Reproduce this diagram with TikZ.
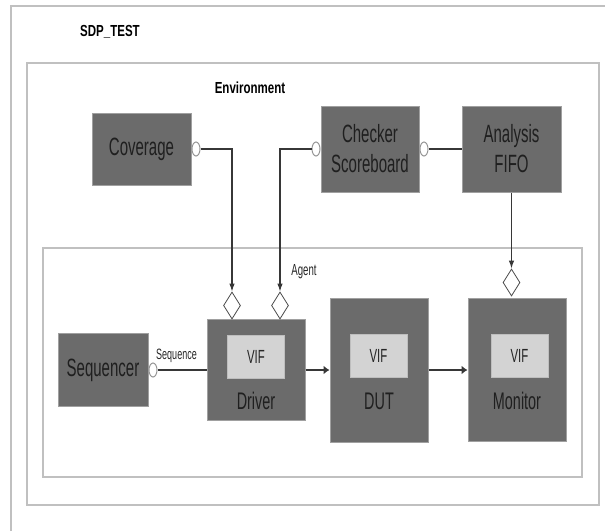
\documentclass[tikz,border=0pt]{standalone}
\usepackage{fontspec}
\setmainfont{Liberation Sans}[FakeStretch=0.6]
\newfontfamily\headfont{Liberation Sans}[FakeStretch=0.72]
\usetikzlibrary{arrows.meta,positioning,shapes.geometric}
\definecolor{blockgray}{RGB}{107,107,107}
\definecolor{blockedge}{RGB}{160,160,160}
\definecolor{viffill}{RGB}{211,211,211}
\definecolor{vifedge}{RGB}{190,190,190}
\definecolor{framegray}{RGB}{192,192,192}
\definecolor{wiregray}{RGB}{55,55,55}
\definecolor{portedge}{RGB}{150,150,150}
\tikzset{
  boundary/.style={draw=framegray,line width=1.5pt},
  wire/.style={draw=wiregray,line width=1.2pt},
  flowv/.style={wire,-{Latex[length=8pt,width=5.5pt]}},
  flowh/.style={wire,-{Latex[length=6pt,width=9pt]}},
  block/.style={draw=blockedge,line width=1pt,fill=blockgray,inner sep=0pt,align=center,
                text=black!88,font=\fontsize{25}{30}\selectfont},
  blocklabel/.style={text=black!88,font=\fontsize{24}{28}\selectfont,anchor=base},
  vif/.style={draw=vifedge,line width=1pt,fill=viffill,minimum width=57,minimum height=43,
              text=black!85,font=\fontsize{19}{22}\selectfont},
  port/.style={ellipse,draw=portedge,line width=1pt,fill=white,minimum width=8,minimum height=14,
               inner sep=0pt},
  link/.style={diamond,aspect=0.63,draw=black!70,line width=0.8pt,fill=white,
               minimum width=17,minimum height=27,inner sep=0pt},
  heading/.style={font=\headfont\bfseries\fontsize{16}{19}\selectfont},
  tag/.style={text=black!85,font=\fontsize{16}{19}\selectfont},
}

\begin{document}
\begin{tikzpicture}[x=1pt,y=-1pt]
  \path[use as bounding box] (0,0) rectangle (605,531);

  % frames
  \draw[boundary] (11,531) -- (11,6) -- (605,6);
  \node[heading] (test) at (110,32) {SDP\_TEST};
  \node[boundary,minimum width=572,minimum height=442] (env) at (313,284) {};
  \node[heading] (envlab) at (250,88) {Environment};
  \node[boundary,minimum width=539,minimum height=229] (agent) at (312.5,362.5) {};
  \node[tag] (agentlab) at (304,272) {Agent};

  % environment components
  \node[block,minimum width=99,minimum height=72] (cov) at (141.5,149) {Coverage};
  \node[block,minimum width=98,minimum height=86] (chk) at (370,149) {Checker\\Scoreboard};
  \node[block,minimum width=99,minimum height=86] (fifo) at (511.5,149) {Analysis\\FIFO};

  % agent components
  \node[block,minimum width=90,minimum height=73] (seq) at (103,370) {Sequencer};
  \node[block,minimum width=98,minimum height=101] (drv) at (256,370) {};
  \node[block,minimum width=98,minimum height=144] (dut) at (379,370) {};
  \node[block,minimum width=98,minimum height=143] (mon) at (517,370) {};
  \node[vif] (drvvif) at (256,357) {VIF};
  \node[vif] (dutvif) at (378.5,355.5) {VIF};
  \node[vif] (monvif) at (519.5,355.5) {VIF};
  \node[blocklabel] (drvlab) at (256,409) {Driver};
  \node[blocklabel] (dutlab) at (379,409) {DUT};
  \node[blocklabel] (monlab) at (517,409) {Monitor};

  % ports and links
  \node[port,right=0pt of cov] (covport) {};
  \node[port,left=0pt of chk] (chkin) {};
  \node[port,right=0pt of chk] (chkout) {};
  \node[port,right=0pt of seq] (seqport) {};
  \node[link] (dcov) at (232,305.5) {};
  \node[link] (dchk) at (280,305.5) {};
  \node[link] (dmon) at (511.5,282.5) {};

  % connections
  \draw[flowv] (covport.east) -| (dcov.north);
  \draw[flowv] (chkin.west) -| (dchk.north);
  \draw[wire] (chkout.east) -- (fifo.west);
  \draw[flowv] (fifo.south) -- (dmon.north);
  \draw[wire] (seqport.east) -- (drv.west);
  \node[tag,font=\fontsize{15}{18}\selectfont] (seqlab) at (176.5,356) {Sequence};
  \draw[flowh] (drv.east) -- (dut.west);
  \draw[flowh] (dut.east) -- (mon.west);
\end{tikzpicture}
\end{document}
